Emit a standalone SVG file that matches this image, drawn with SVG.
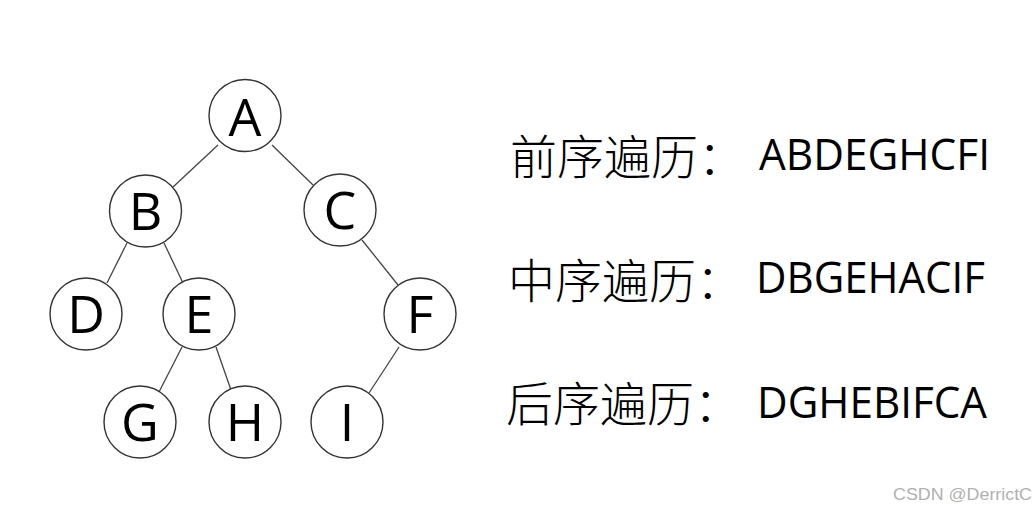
<svg xmlns="http://www.w3.org/2000/svg" width="1035" height="513" viewBox="0 0 1035 513">
<style>
.n circle{fill:#fff;stroke:#333;stroke-width:1.4}
.n text{font-family:"Open Sans","Noto Sans",sans-serif;font-size:52px;fill:#000;text-anchor:middle}
.e line{stroke:#444;stroke-width:1.3}
.t{font-family:"Noto Sans CJK SC",sans-serif;font-size:47px;font-weight:300;fill:#000}
.l{font-family:"Open Sans","Noto Sans",sans-serif;font-size:44px;fill:#000}
</style>
<rect width="1035" height="513" fill="#fff"/>
<g id="connectors" class="e">
<line x1="218" y1="145" x2="173" y2="187"/>
<line x1="272" y1="145" x2="313" y2="185"/>
<line x1="127" y1="243" x2="107" y2="283"/>
<line x1="164" y1="243" x2="183" y2="283"/>
<line x1="362" y1="240" x2="398" y2="285"/>
<line x1="182" y1="347" x2="159" y2="392"/>
<line x1="216" y1="347" x2="231" y2="390"/>
<line x1="399" y1="347" x2="369" y2="393"/>
</g>
<g id="nA" class="n"><circle cx="245" cy="115.5" r="36"/><text x="245" y="136">A</text></g>
<g id="nB" class="n"><circle cx="145.5" cy="211" r="36"/><text x="145.5" y="230">B</text></g>
<g id="nC" class="n"><circle cx="340" cy="210" r="36"/><text x="340" y="229">C</text></g>
<g id="nD" class="n"><circle cx="86" cy="314" r="36"/><text x="86" y="333">D</text></g>
<g id="nE" class="n"><circle cx="199" cy="314" r="36"/><text x="199" y="333">E</text></g>
<g id="nF" class="n"><circle cx="420" cy="314" r="36"/><text x="420" y="333">F</text></g>
<g id="nG" class="n"><circle cx="140" cy="422" r="36"/><text x="140" y="441">G</text></g>
<g id="nH" class="n"><circle cx="245" cy="422" r="36"/><text x="245" y="441">H</text></g>
<g id="nI" class="n"><circle cx="347" cy="422" r="36"/><text x="347" y="441">I</text></g>
<g id="legend">
<text class="t" x="510" y="174">前序遍历：</text>
<text class="l" x="759" y="170" textLength="231" lengthAdjust="spacingAndGlyphs">ABDEGHCFI</text>
<text class="t" x="508" y="298">中序遍历：</text>
<text class="l" x="756" y="293" textLength="229" lengthAdjust="spacingAndGlyphs">DBGEHACIF</text>
<text class="t" x="506" y="421">后序遍历：</text>
<text class="l" x="757" y="418" textLength="230" lengthAdjust="spacingAndGlyphs">DGHEBIFCA</text>
</g>
<text x="893" y="500" font-family="Liberation Sans, Arial, sans-serif" font-size="17" fill="#b0b0b0" textLength="139" lengthAdjust="spacingAndGlyphs">CSDN @DerrictC</text>
</svg>
